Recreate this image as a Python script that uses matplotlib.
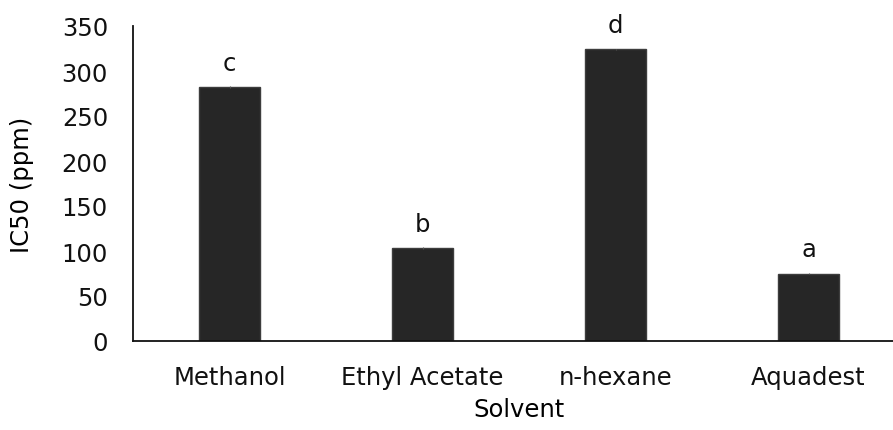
import numpy as np
import matplotlib.pyplot as plt

# IC50 per solvent
solvents = ["Methanol", "Ethyl Acetate", "n-hexane", "Aquadest"]
ic50 = [282, 103, 324, 75]
err = [1, 1, 1, 1]
letters = ["c", "b", "d", "a"]

plt.rcParams['font.family'] = ['DejaVu Sans']

fig = plt.figure(figsize=(8.93, 4.31), dpi=100)
ax = fig.add_axes([133/893, 89/431, 772/893, 315/431])

x = np.arange(len(solvents))
ax.bar(x, ic50, width=0.32, color='#262626', edgecolor='#3d3d3d', linewidth=1,
       yerr=err, error_kw=dict(ecolor='#555555', elinewidth=0.8, capsize=0))
for xi, v, t in zip(x, ic50, letters):
    ax.annotate(t, (xi, v), xytext=(0, 9), textcoords='offset points',
                ha='center', va='bottom', fontsize=17.5, color='#111111')

ax.set_xlim(-0.5, len(solvents) - 0.5)
ax.set_ylim(0, 350)
ax.set_yticks(np.arange(0, 351, 50))
ax.set_xticks(x)
ax.set_xticklabels(solvents)
ax.tick_params(axis='both', length=0, labelsize=17.5, colors='#111111')
ax.tick_params(axis='y', pad=18)
ax.tick_params(axis='x', pad=17)
for s in ['top', 'right']:
    ax.spines[s].set_visible(False)
for s in ['left', 'bottom']:
    ax.spines[s].set_linewidth(1.3)
    ax.spines[s].set_color('#111111')
ax.set_ylabel('IC50 (ppm)', fontsize=17.5, labelpad=20)
ax.set_xlabel('Solvent', fontsize=17.5, labelpad=6)

fig.savefig('out.png', dpi=100)
